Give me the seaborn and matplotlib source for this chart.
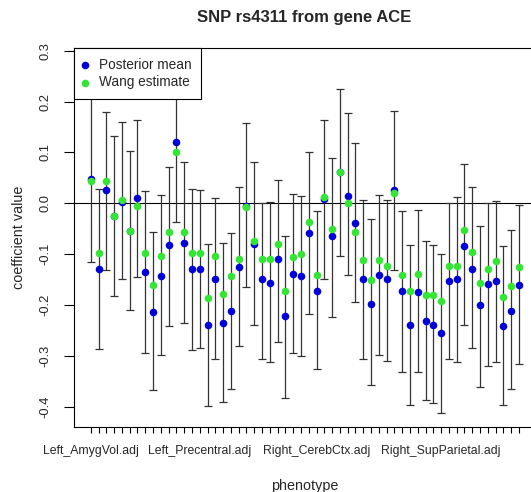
import numpy as np
import pandas as pd
import matplotlib
matplotlib.use("Agg")
import matplotlib.pyplot as plt
import seaborn as sns

# posterior means, Wang estimates and interval ends for the 56 phenotypes
post_mean = [0.048, -0.129, 0.026, -0.024, 0.002, -0.054, 0.010, -0.134, -0.213, -0.142,
             -0.082, 0.120, -0.078, -0.128, -0.128, -0.238, -0.149, -0.235, -0.212, -0.126,
             -0.005, -0.080, -0.149, -0.157, -0.109, -0.221, -0.138, -0.142, -0.059, -0.173,
             0.008, -0.065, 0.061, 0.015, -0.039, -0.149, -0.197, -0.141, -0.149, 0.027,
             -0.172, -0.239, -0.175, -0.231, -0.238, -0.254, -0.152, -0.149, -0.084, -0.128,
             -0.200, -0.158, -0.153, -0.240, -0.211, -0.160]
wang_est = [0.043, -0.098, 0.044, -0.024, 0.007, -0.054, -0.005, -0.098, -0.160, -0.103,
            -0.057, 0.101, -0.057, -0.098, -0.098, -0.185, -0.103, -0.178, -0.142, -0.109,
            -0.007, -0.073, -0.110, -0.110, -0.080, -0.172, -0.106, -0.100, -0.037, -0.140,
            0.012, -0.050, 0.061, 0.000, -0.056, -0.111, -0.151, -0.111, -0.124, 0.020,
            -0.140, -0.173, -0.139, -0.181, -0.181, -0.191, -0.124, -0.124, -0.052, -0.096,
            -0.157, -0.128, -0.113, -0.183, -0.162, -0.126]
lower = [-0.115, -0.287, -0.131, -0.182, -0.149, -0.210, -0.145, -0.293, -0.367, -0.298,
         -0.241, -0.037, -0.236, -0.289, -0.285, -0.399, -0.305, -0.391, -0.365, -0.280,
         -0.164, -0.239, -0.306, -0.312, -0.272, -0.383, -0.293, -0.299, -0.217, -0.325,
         -0.149, -0.223, -0.103, -0.141, -0.193, -0.306, -0.356, -0.298, -0.309, -0.130,
         -0.332, -0.396, -0.331, -0.386, -0.392, -0.411, -0.305, -0.311, -0.239, -0.285,
         -0.361, -0.319, -0.312, -0.396, -0.365, -0.316]
upper = [0.211, 0.029, 0.180, 0.133, 0.160, 0.102, 0.163, 0.024, -0.056, 0.016,
         0.071, 0.277, 0.081, 0.029, 0.027, -0.079, 0.010, -0.077, -0.058, 0.033,
         0.157, 0.081, 0.001, 0.003, 0.046, -0.065, 0.018, 0.014, 0.100, -0.016,
         0.164, 0.090, 0.224, 0.178, 0.119, 0.007, -0.031, 0.016, 0.007, 0.181,
         -0.016, -0.081, -0.014, -0.074, -0.081, -0.100, 0.001, 0.013, 0.077, 0.032,
         -0.045, 0.001, 0.005, -0.083, -0.052, -0.003]

# only these tick labels are printed (R drops the overlapping ones)
label_idx = [1, 15, 30, 46]
label_names = ["Left_AmygVol.adj", "Left_Precentral.adj", "Right_CerebCtx.adj", "Right_SupParietal.adj"]

y_ticks = [-0.4, -0.3, -0.2, -0.1, 0.0, 0.1, 0.2, 0.3]

n = len(post_mean)
df = pd.DataFrame({"idx": np.arange(1, n + 1), "post": post_mean, "wang": wang_est,
                   "lo": lower, "hi": upper})

sns.set_style("ticks")
plt.rcParams["font.family"] = ["Liberation Sans", "DejaVu Sans"]

fig = plt.figure(figsize=(5.31, 4.92), dpi=100)
ax = fig.add_axes([73.6 / 531, 65.4 / 492, 462.5 / 531, 378.3 / 492])

# error bars: vertical segment with flat caps
ax.errorbar(df["idx"], df["post"],
            yerr=[df["post"] - df["lo"], df["hi"] - df["post"]],
            fmt="none", ecolor="#333333", elinewidth=0.9, capsize=2.6, capthick=0.9, zorder=2)

ax.axhline(0, color="black", lw=0.8, zorder=1)

sns.scatterplot(data=df, x="idx", y="post", color="#0000d8", s=30, linewidth=0,
                ax=ax, zorder=3, label="Posterior mean")
sns.scatterplot(data=df, x="idx", y="wang", color="#33e633", s=30, linewidth=0,
                ax=ax, zorder=4, label="Wang estimate")

# R style 4% padding around the data
xr = n - 1
ax.set_xlim(1 - 0.04 * xr, n + 0.04 * xr)
ymin, ymax = min(lower), max(upper)
yr = ymax - ymin
ax.set_ylim(ymin - 0.04 * yr, ymax + 0.04 * yr)

ax.set_xticks(df["idx"])
xt = ["" for _ in range(n)]
for i, name in zip(label_idx, label_names):
    xt[i - 1] = name
ax.set_xticklabels(xt, fontsize=8.8)
ax.set_yticks(y_ticks)
ax.set_yticklabels([f"{v:.1f}" for v in y_ticks], rotation=90, va="center", fontsize=9.3)
ax.tick_params(axis="both", width=0.8, color="black")
ax.tick_params(axis="x", length=4.3, pad=9)
ax.tick_params(axis="y", length=7.2, pad=9)

for s in ax.spines.values():
    s.set_visible(True)
    s.set_color("black")
    s.set_linewidth(0.8)

ax.set_xlabel("phenotype", fontsize=10.4)
ax.set_ylabel("coefficient value", fontsize=10.4)
ax.xaxis.set_label_coords(0.5, -0.139)
ax.yaxis.set_label_coords(-0.102, 0.5)
fig.suptitle("SNP rs4311 from gene ACE", fontsize=12, fontweight="bold", x=304 / 531, y=0.98)

leg = ax.legend(loc="upper left", fontsize=9.8, frameon=True, fancybox=False, framealpha=1,
                edgecolor="black", borderaxespad=0, handletextpad=0.85, borderpad=0.7,
                labelspacing=0.24, handlelength=0.3, markerscale=1.0)
leg.get_frame().set_linewidth(0.8)
leg.set_zorder(10)

fig.savefig("out.png", dpi=100)
